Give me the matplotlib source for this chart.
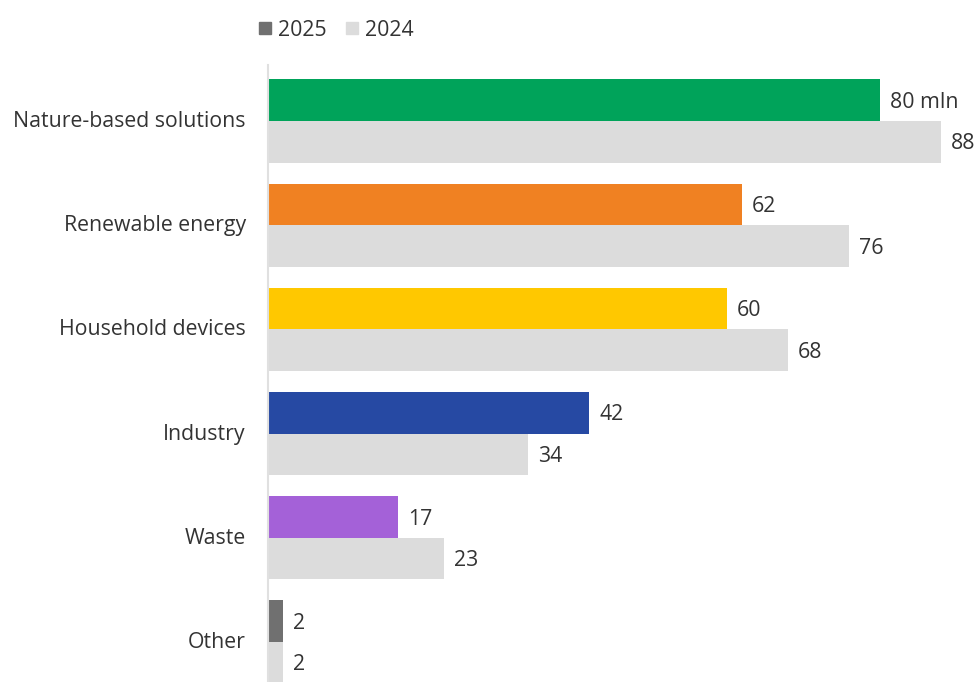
import matplotlib.pyplot as plt
from matplotlib.patches import Patch

plt.rcParams['font.family'] = ['Open Sans', 'DejaVu Sans']

categories = ['Nature-based solutions', 'Renewable energy', 'Household devices',
              'Industry', 'Waste', 'Other']
v2025 = [80, 62, 60, 42, 17, 2]
v2024 = [88, 76, 68, 34, 23, 2]
colors2025 = ['#00A35A', '#F08122', '#FFC800', '#2649A3', '#A461D8', '#707070']
grey = '#DCDCDC'

fig = plt.figure(figsize=(9.78, 6.82), dpi=100)
ax = fig.add_axes([268 / 978, 0, 1 - 268 / 978, 1])

h = 0.40
ys = list(range(len(categories)))
ax.barh([y - h / 2 for y in ys], v2025, height=h, color=colors2025)
ax.barh([y + h / 2 for y in ys], v2024, height=h, color=grey)

fs = 15.3
for i, y in enumerate(ys):
    lab = f'{v2025[i]} mln' if i == 0 else str(v2025[i])
    ax.text(v2025[i] + 1.3, y - h / 2 + 0.02, lab, va='center', ha='left', fontsize=fs, color='#333333')
    ax.text(v2024[i] + 1.3, y + h / 2 + 0.02, str(v2024[i]), va='center', ha='left', fontsize=fs, color='#333333')

ax.set_xlim(0, 710 / 7.65)
ax.set_ylim(561 / 104.2, -121 / 104.2)
ax.set_yticks([y - 0.02 for y in ys])
ax.set_yticklabels(categories, fontsize=fs, color='#333333')
ax.tick_params(axis='y', length=0, pad=16)
ax.set_xticks([])
for s in ['top', 'right', 'bottom']:
    ax.spines[s].set_visible(False)
ax.spines['left'].set_color('#E0E0E0')
ax.spines['left'].set_linewidth(1.5)
ax.spines['left'].set_bounds(-0.54, 6)

handles = [Patch(color='#707070', label='2025'), Patch(color=grey, label='2024')]
fig.legend(handles=handles, loc='center left', bbox_to_anchor=(240 / 978, 1 - 30 / 682),
           ncol=2, frameon=False, fontsize=fs, handlelength=0.55, handleheight=0.55,
           handletextpad=0.35, columnspacing=0.9, labelcolor='#333333')

fig.savefig('out.png', dpi=100)
